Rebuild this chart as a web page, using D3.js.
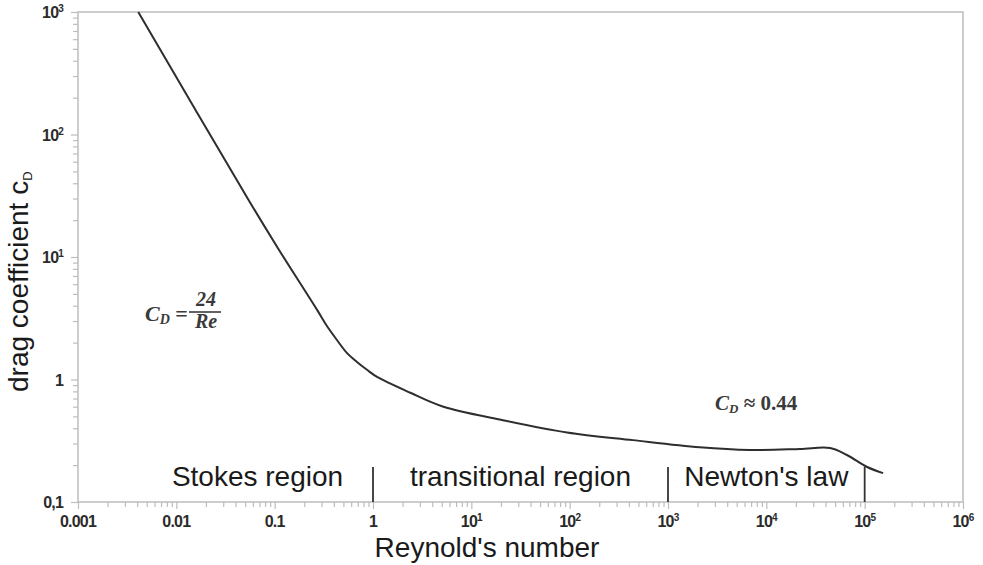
<!DOCTYPE html>
<html>
<head>
<meta charset="utf-8">
<script src="https://cdn.jsdelivr.net/npm/d3@7"></script>
<style>
  html, body { margin: 0; padding: 0; background: #fff; }
  svg { display: block; }
</style>
</head>
<body>
<svg id="chart" width="983" height="565"></svg>
<script>
// Drag coefficient of a sphere versus Reynolds number
const reynolds  = [0.0041, 0.056, 0.108, 0.27, 0.34, 0.43, 0.545, 0.687, 0.869, 1.1, 2.4, 5.2, 20, 94, 440, 2100, 6800, 22000, 44500, 66000, 106000, 154000];
const dragCoeff = [1000, 28, 11.8, 3.7, 2.73, 2.10, 1.64, 1.39, 1.20, 1.05, 0.78, 0.60, 0.47, 0.37, 0.32, 0.28, 0.266, 0.271, 0.276, 0.242, 0.193, 0.172];

// Axis ticks (decades) and their labels
const xMajor = [1e-3, 1e-2, 1e-1, 1, 1e1, 1e2, 1e3, 1e4, 1e5, 1e6];
const xLabels = [["0.001"], ["0.01"], ["0.1"], ["1"], ["10", "1"], ["10", "2"], ["10", "3"], ["10", "4"], ["10", "5"], ["10", "6"]];
const yMajor = [0.1, 1, 10, 100, 1000];
const yLabels = [["0,1"], ["1"], ["10", "1"], ["10", "2"], ["10", "3"]];

// Flow regimes with their boundaries
const regionNames = ["Stokes region", "transitional region", "Newton's law"];
const regionFrom  = [1e-3, 1, 1e3];
const regionTo    = [1, 1e3, 1e5];
const regionBounds = [1, 1e3, 1e5];

const svg = d3.select("#chart");
const plotLeft = 78, plotRight = 963, plotTop = 12, plotBottom = 502;

const x = d3.scaleLog().domain([1e-3, 1e6]).range([plotLeft, plotRight]);
const y = d3.scaleLog().domain([0.1, 1000]).range([plotBottom, plotTop]);

const axisColor = "#bdbdbd";
const sans = "'Liberation Sans', Arial, sans-serif";
const serif = "'Liberation Serif', 'Times New Roman', serif";

// minor ticks: 2..9 within each decade
function minors(majors) {
  const out = [];
  for (let i = 0; i < majors.length - 1; i++)
    for (let k = 2; k <= 9; k++) out.push(majors[i] * k);
  return out;
}

// frame
svg.append("rect")
  .attr("x", plotLeft).attr("y", plotTop)
  .attr("width", plotRight - plotLeft).attr("height", plotBottom - plotTop)
  .attr("fill", "none").attr("stroke", axisColor).attr("stroke-width", 1.5);

// x axis ticks
const gx = svg.append("g").attr("transform", `translate(0,${plotBottom})`);
gx.call(d3.axisBottom(x).tickValues(minors(xMajor)).tickSize(5).tickFormat(""));
gx.call(g => g.append("g").call(d3.axisBottom(x).tickValues(xMajor).tickSize(7).tickFormat("")));
gx.selectAll(".domain").remove();
gx.selectAll("line").attr("stroke", axisColor).attr("stroke-width", 1.2);

// y axis ticks
const gy = svg.append("g").attr("transform", `translate(${plotLeft},0)`);
gy.call(d3.axisLeft(y).tickValues(minors(yMajor)).tickSize(5).tickFormat(""));
gy.call(g => g.append("g").call(d3.axisLeft(y).tickValues(yMajor).tickSize(7).tickFormat("")));
gy.selectAll(".domain").remove();
gy.selectAll("line").attr("stroke", axisColor).attr("stroke-width", 1.2);

// tick labels with superscript exponents
function writeLabel(sel, parts) {
  sel.append("tspan").text(parts[0]);
  if (parts.length > 1)
    sel.append("tspan").attr("dy", -6).attr("font-size", 10).text(parts[1]);
}
xMajor.forEach((v, i) => {
  const t = svg.append("text")
    .attr("x", x(v)).attr("y", 527)
    .attr("text-anchor", "middle")
    .attr("font-family", sans).attr("font-weight", "bold")
    .attr("font-size", 16).attr("fill", "#2b2b2b")
    .attr("letter-spacing", -0.8);
  writeLabel(t, xLabels[i]);
});
yMajor.forEach((v, i) => {
  const t = svg.append("text")
    .attr("x", 63).attr("y", y(v) + 6)
    .attr("text-anchor", "end")
    .attr("font-family", sans).attr("font-weight", "bold")
    .attr("font-size", 16).attr("fill", "#2b2b2b")
    .attr("letter-spacing", -0.8);
  writeLabel(t, yLabels[i]);
});

// axis titles
svg.append("text")
  .attr("x", 487).attr("y", 557)
  .attr("text-anchor", "middle")
  .attr("font-family", sans).attr("font-size", 28).attr("fill", "#1a1a1a")
  .text("Reynold's number");

const yt = svg.append("text")
  .attr("transform", "translate(28,392) rotate(-90)")
  .attr("text-anchor", "start")
  .attr("font-family", sans).attr("font-size", 28).attr("fill", "#1a1a1a");
yt.append("tspan").text("drag coefficient c");
yt.append("tspan").attr("font-size", 13).attr("dy", 4).text("D");

// regime boundaries and names
svg.selectAll(".bound").data(regionBounds).join("line")
  .attr("x1", d => x(d)).attr("x2", d => x(d))
  .attr("y1", 467).attr("y2", plotBottom)
  .attr("stroke", "#333").attr("stroke-width", 1.8);

svg.selectAll(".region").data(regionNames).join("text")
  .attr("x", (d, i) => (x(regionFrom[i]) + x(regionTo[i])) / 2 + (i === 0 ? 32 : 0))
  .attr("y", 486)
  .attr("text-anchor", "middle")
  .attr("font-family", sans).attr("font-size", 28).attr("fill", "#1a1a1a")
  .text(d => d);

// drag curve
const pts = reynolds.map((r, i) => [r, dragCoeff[i]]);
svg.append("path")
  .datum(pts)
  .attr("fill", "none").attr("stroke", "#2e2e2e").attr("stroke-width", 2)
  .attr("d", d3.line().x(d => x(d[0])).y(d => y(d[1])).curve(d3.curveCatmullRom.alpha(0.5)));

// formula annotations
const annColor = "#3a3a3a";
const f1 = svg.append("text")
  .attr("x", 145).attr("y", 321)
  .attr("font-family", serif).attr("font-style", "italic").attr("font-weight", "bold")
  .attr("font-size", 22).attr("fill", annColor);
f1.append("tspan").text("C");
f1.append("tspan").attr("font-size", 14).attr("dy", 3).text("D");
f1.append("tspan").attr("dy", -3).attr("font-style", "normal").text(" =");

svg.append("text")
  .attr("x", 206).attr("y", 306).attr("text-anchor", "middle")
  .attr("font-family", serif).attr("font-style", "italic").attr("font-weight", "bold")
  .attr("font-size", 20).attr("fill", annColor).text("24");
svg.append("line")
  .attr("x1", 189).attr("x2", 221).attr("y1", 312).attr("y2", 312)
  .attr("stroke", annColor).attr("stroke-width", 1.6);
svg.append("text")
  .attr("x", 206).attr("y", 328).attr("text-anchor", "middle")
  .attr("font-family", serif).attr("font-style", "italic").attr("font-weight", "bold")
  .attr("font-size", 20).attr("fill", annColor).text("Re");

const f2 = svg.append("text")
  .attr("x", 715).attr("y", 410)
  .attr("font-family", serif).attr("font-style", "italic").attr("font-weight", "bold")
  .attr("font-size", 21).attr("fill", annColor);
f2.append("tspan").text("C");
f2.append("tspan").attr("font-size", 13).attr("dy", 3).text("D");
f2.append("tspan").attr("dy", -3).attr("font-style", "normal").text(" ≈ 0.44");
</script>
</body>
</html>
